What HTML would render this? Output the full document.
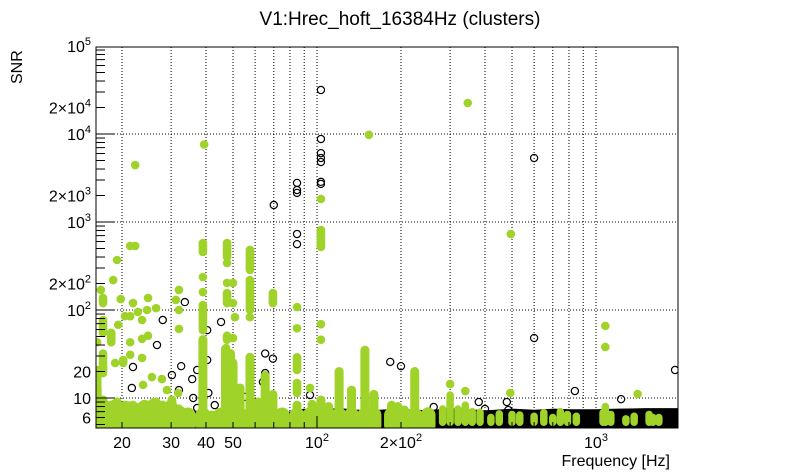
<!DOCTYPE html>
<html><head><meta charset="utf-8">
<style>
html,body{margin:0;padding:0;background:#fff;}
svg{display:block;font-family:"Liberation Sans",sans-serif;}
</style></head>
<body>
<svg id="chart" width="805" height="472" viewBox="0 0 805 472" xmlns="http://www.w3.org/2000/svg">
<defs><clipPath id="plotclip"><rect x="96" y="47" width="582" height="381"/></clipPath></defs>
<rect x="0" y="0" width="805" height="472" fill="#fff"/>
<text x="400" y="25" font-size="19" text-anchor="middle">V1:Hrec_hoft_16384Hz (clusters)</text>
<text transform="translate(22,84) rotate(-90)" font-size="16">SNR</text>
<text x="670" y="466" font-size="16" text-anchor="end">Frequency [Hz]</text>
<g id="grid"></g>
<g id="band" clip-path="url(#plotclip)"></g>
<g id="black" clip-path="url(#plotclip)"></g>
<g id="green" clip-path="url(#plotclip)"></g>
<g id="axes"></g>
</svg>
<script>
const xTickValues = [20,30,40,50,100,200,1000];
const xTickLabels = ["20","30","40","50","10^2","2×10^2","10^3"];
const yTickValues = [6,10,20,100,200,1000,2000,10000,20000,100000];
const yTickLabels = ["6","10","20","10^2","2×10^2","10^3","2×10^3","10^4","2×10^4","10^5"];

// black band (dense low-SNR carpet): frequency, top SNR
const bandFreq = [16,30,33,36,40,45,60,70,80,90,100,120,150,200,250,300,350,400,500,600,700,800,1000,1200,1500,1968];
const bandTop  = [5.5,5.8,6.4,6.6,6.0,6.3,6.2,6.6,6.4,6.9,6.7,7.0,6.6,6.9,6.6,7.0,6.8,6.6,6.9,6.7,6.9,6.8,6.8,6.9,7.0,7.0];

// green low carpet on the left: frequency, top SNR
const carpetFreq = [16.2,17,18,19,20,21,22,23,24,25,26,27,28,29,30,31,32,33,34];
const carpetTop  = [9.5,9.0,8.0,8.8,8.0,8.3,8.0,7.8,8.6,8.3,9.0,8.0,8.4,7.8,9.0,7.5,7.6,7.0,6.4];

// black open circles: frequency, SNR
const blackFreq = [103.3,103.3,103.3,103.3,103.3,103.3,103.3,84.8,84.8,84.8,70,84.8,84.8,600,600,1920,840,1230,380,400,262,33.6,45.3,183,200,65.2,69.5,28,40.4,40.4,32.6,30.2,37.2,35.7,21.7,32,21.9,26.7,65.2,64,55,94.4,40.8,43,36,37.2,479,485];
const blackSnr  = [31620,8770,6060,5330,4800,2860,2710,2780,2310,2140,1560,730,560,5330,48,20.8,12,9.7,9,7.5,7.9,123,73,25.7,23,32,28,77,59,27,23,18.2,20.8,16.4,13,12.3,22.5,40,19.2,15.2,10.3,10.8,11.4,8.3,10,7.7,9,7.3];

// green clusters as runs: frequency, low SNR, high SNR
const greenFreq = [347,153.5,22.3,39.4,103.3,103.3,495,1080,1080,1410,300,340,493,
 19.2,21.4,22.3,18.6,16.8,17.1,19.8,21.9,24.8,22.8,24.6,26.5,20.5,21.4,23.6,17.1,19.4,18.3,21.4,23.6,24.8,16.3,32,31.2,32,32,23.6,21.4,20.2,18.9,17.1,16.3,25.6,27.8,29,23.8,31.8,
 39,39,39,39,47.6,47.6,47.6,50,47.6,50,50.8,47.6,50,47.2,57.5,57.5,57.5,69.5,84.8,84.8,84.8,84.8,103.3,103.3,94.4,57.5,65.2];
const greenLo = [22500,9800,4440,7600,1830,520,730,66,38,11.1,14.4,12,11.4,
 370,535,535,219,169,120,133,120,137,95,100,105,85,85,77,55,68,43,43,47,51,43,169,130,100,61,28.5,31,25,25,19.2,13.3,17.3,16.4,12.3,14.1,11.4,
 456,237,160,59,400,342,203,203,120,120,83,46,48,37,285,100,83,120,108,62,20.8,11.4,69,46,13,19.2,13.3];
const greenHi = [22500,9800,4440,7600,1830,811,730,66,38,11.1,14.4,12,11.4,
 370,535,535,219,169,137,133,120,137,95,100,105,85,85,77,77,68,55,43,47,51,43,169,130,100,61,28.5,31,27,25,32,20.8,17.3,16.4,12.3,14.1,11.4,
 577,237,160,114,577,342,203,203,156,120,83,51,48,37,481,219,83,156,108,62,29,14.8,69,46,13,29,17.3];

// green dense columns rising from the bottom: frequency, top SNR
const colFreq = [16.3,17.1,18.3,19.2,20.5,21.9,23.6,24.8,26.5,27.8,29,30.2,31.8,34.5,39,42.1,45.3,47,49,50,53,57.5,61.5,65.2,69.5,75,84.8,94.4,96,100,103.3,110,120,133,148.5,160,185,195,206,224,250,282,300,320,340,360,384,420,450,500,533,600,650,700,745,790,850,1060,1080,1130,1280,1370,1550,1600,1680];
const colTop  = [13,9.5,8.3,9.0,8.3,8.3,7.9,8.3,9.0,8.3,7.9,9.5,7.3,6.4,46,5.9,6.8,36,32,25,13,29,9,18,11,6.4,8.3,6.4,8.5,6.8,9.5,8,20,12.3,35,11,8.3,8,7.3,20,7,7.5,10.8,7.5,8.3,7,6.9,6,6.6,6.5,6.4,6.2,6.8,6,7.0,6.5,6.2,6.8,8.0,6.5,5.8,6.2,6.5,6.0,6.0];

const NS = "http://www.w3.org/2000/svg";
const X0=96, X1=678, Y0=47, Y1=428;
const x = f => 317 + 279*Math.log10(f/100);
const y = s => 398 - 88*Math.log10(s/10);
const GREEN = "#9fd32a";
const BASE = 4.9;

function mk(tag, attrs, parent){ const e=document.createElementNS(NS,tag); for(const k in attrs) e.setAttribute(k,attrs[k]); parent.appendChild(e); return e; }
function sup(t, txt){
  const m = txt.split("^");
  t.textContent = m[0];
  if(m.length>1){ const ts=document.createElementNS(NS,"tspan"); ts.setAttribute("dy","-7"); ts.setAttribute("font-size","11"); ts.textContent=m[1]; t.appendChild(ts); }
}

const grid = document.getElementById("grid");
const axes = document.getElementById("axes");
const gridF = [20,30,40,50,60,70,80,90,100,200,300,400,500,600,700,800,900,1000];
gridF.forEach(f=>{
  const l = mk("line",{x1:x(f),x2:x(f),y1:Y0,y2:Y1,stroke:"#000","stroke-width":1,"stroke-dasharray":"1,2"},grid);
  
  
});
[10,100,1000,10000].forEach(s=>{
  const l = mk("line",{x1:X0,x2:X1,y1:y(s),y2:y(s),stroke:"#000","stroke-width":1,"stroke-dasharray":"1,2"},grid);
  
  
});

const band = document.getElementById("band");
let d = "M"+x(bandFreq[0])+","+(Y1+10);
bandFreq.forEach((f,i)=>{ d += " L"+x(f)+","+y(bandTop[i]); });
d += " L"+x(bandFreq[bandFreq.length-1])+","+(Y1+10)+" Z";
const bp = mk("path",{d:d,fill:"#000",stroke:"#000","stroke-width":7,"stroke-linejoin":"round"},band);



const black = document.getElementById("black");
blackFreq.forEach((f,i)=>{
  const c = mk("circle",{cx:x(f),cy:y(blackSnr[i]),r:3.6,fill:"none",stroke:"#000","stroke-width":1.2},black);
  
  
});

const green = document.getElementById("green");
let cd = "M"+x(carpetFreq[0])+","+(Y1+10);
carpetFreq.forEach((f,i)=>{ cd += " L"+x(f)+","+y(carpetTop[i]); });
cd += " L"+x(carpetFreq[carpetFreq.length-1])+","+(Y1+10)+" Z";
const cp = mk("path",{d:cd,fill:GREEN,stroke:GREEN,"stroke-width":8,"stroke-linejoin":"round"},green);



colFreq.forEach((f,i)=>{
  if(f<260){
    const b = mk("line",{x1:x(f),x2:x(f),y1:y(BASE),y2:y(Math.min(colTop[i],6.4)),stroke:GREEN,"stroke-width":15,"stroke-linecap":"round"},green);
    
    
  }
  const l = mk("line",{x1:x(f),x2:x(f),y1:y(BASE+0.4),y2:y(colTop[i]),stroke:GREEN,"stroke-width":f<260?9:7.5,"stroke-linecap":"round"},green);
  
  
});
greenFreq.forEach((f,i)=>{
  const l = mk("line",{x1:x(f),x2:x(f),y1:y(greenLo[i]),y2:y(greenHi[i]),stroke:GREEN,"stroke-width":8.6,"stroke-linecap":"round"},green);
  
  
});

const fr = mk("rect",{x:X0,y:Y0,width:X1-X0,height:Y1-Y0,fill:"none",stroke:"#000","stroke-width":1},axes);



for(let e=0;e<5;e++){
  for(let m=1;m<10;m++){
    const s=m*Math.pow(10,e);
    if(s<4.6||s>100000) continue;
    const len = (m===1)?18:9;
    const t = mk("line",{x1:X0,x2:X0+len,y1:y(s),y2:y(s),stroke:"#000","stroke-width":1},axes);
    
    
  }
}
for(let e=1;e<4;e++){
  for(let m=1;m<10;m++){
    const f=m*Math.pow(10,e);
    if(f<16.2||f>1968) continue;
    const len = (m===1)?12:6;
    const t = mk("line",{x1:x(f),x2:x(f),y1:Y1,y2:Y1-len,stroke:"#000","stroke-width":1},axes);
    
    
  }
}
yTickValues.forEach((s,i)=>{
  const t = mk("text",{x:91,y:y(s)+6,"font-size":16,"text-anchor":"end"},axes);
  sup(t,yTickLabels[i]);
  
  
});
xTickValues.forEach((f,i)=>{
  const t = mk("text",{x:x(f),y:448,"font-size":16,"text-anchor":"middle"},axes);
  sup(t,xTickLabels[i]);
  
  
});
</script>
</body></html>
